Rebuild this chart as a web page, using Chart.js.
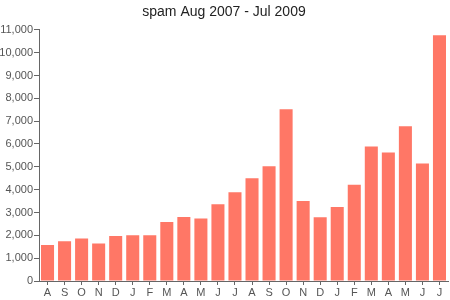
<!DOCTYPE html>
<html>
<head>
<meta charset="utf-8">
<script src="https://cdn.jsdelivr.net/npm/chart.js@4/dist/chart.umd.min.js"></script>
<style>
html,body{margin:0;padding:0;background:#fff;}
#wrap{width:450px;height:300px;}
</style>
</head>
<body>
<div id="wrap"><canvas id="c" width="450" height="300"></canvas></div>
<script>
const titleText = "spam Aug 2007 - Jul 2009";
const categories = ["A","S","O","N","D","J","F","M","A","M","J","J","A","S","O","N","D","J","F","M","A","M","J","J"];
const spamCounts = [1580,1740,1860,1640,1970,2000,2000,2580,2800,2740,3360,3890,4500,5030,7520,3500,2790,3240,4220,5890,5630,6780,5140,10760];
const yTickMax = 11000;
const yTickStep = 1000;

const axisColor = '#666';
new Chart(document.getElementById('c'), {
  type: 'bar',
  data: {
    labels: categories,
    datasets: [{
      data: spamCounts,
      backgroundColor: '#ff7766',
      borderWidth: 0,
      categoryPercentage: 1.0,
      barPercentage: 0.765
    }]
  },
  options: {
    responsive: false,
    animation: false,
    devicePixelRatio: 1,
    layout: { padding: { left: 0, right: 2, top: 0, bottom: 0 } },
    plugins: {
      legend: { display: false },
      tooltip: { enabled: false },
      title: {
        display: true,
        text: titleText,
        color: '#222',
        font: { family: 'Liberation Sans', size: 14, weight: 'normal' },
        padding: { top: 4, bottom: 9 }
      }
    },
    scales: {
      x: {
        grid: { display: true, drawOnChartArea: false, drawTicks: true, tickLength: 4, offset: false, color: axisColor },
        border: { display: true, color: axisColor, width: 1 },
        ticks: { color: '#555', font: { family: 'Liberation Sans', size: 11 }, padding: 1, maxRotation: 0, autoSkip: false },
        afterFit: (s) => { s.height = 19; }
      },
      y: {
        min: 0,
        max: yTickMax,
        grid: { display: true, drawOnChartArea: false, drawTicks: true, tickLength: 5, color: axisColor },
        border: { display: true, color: axisColor, width: 1 },
        ticks: {
          stepSize: yTickStep,
          color: '#555',
          font: { family: 'Liberation Sans', size: 11 },
          padding: 1,
          callback: (v) => v.toLocaleString('en-US')
        },
        afterFit: (s) => { s.width = 39; }
      }
    }
  }
});
</script>
</body>
</html>
